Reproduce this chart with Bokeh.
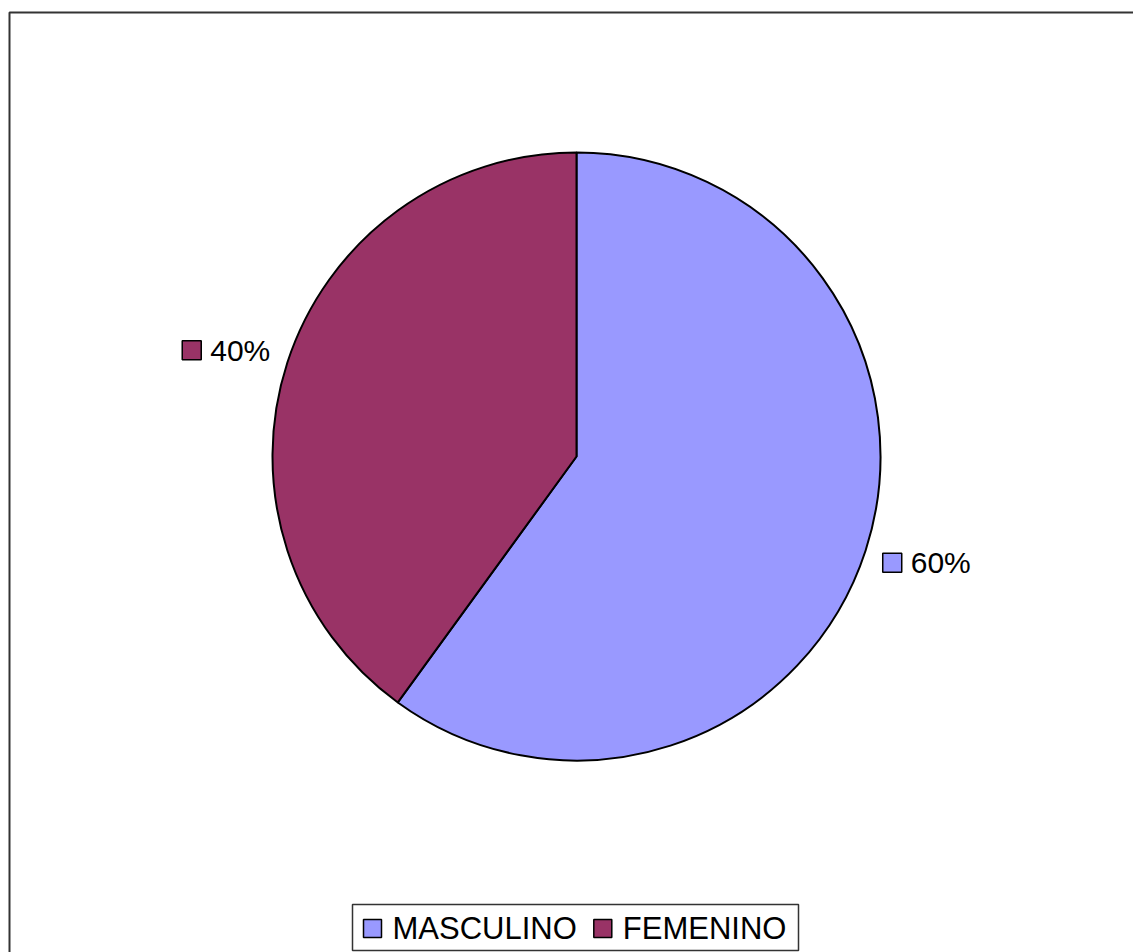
import numpy as np
from bokeh.plotting import figure
from bokeh.models import Range1d, ColumnDataSource
from bokeh.core.properties import value
from bokeh.embed import file_html
from bokeh.resources import INLINE

# ---- data ----
categories = ["MASCULINO", "FEMENINO"]
percentages = [60, 40]
colors = ["#9999FF", "#993366"]
labels = ["60%", "40%"]

W, H = 1133, 952
FONT = "Liberation Sans"

p = figure(width=W, height=H, x_range=Range1d(0, W), y_range=Range1d(0, H),
           output_backend="svg", toolbar_location=None, min_border=0)
p.axis.visible = False
p.grid.visible = False
p.outline_line_color = None
p.background_fill_color = "white"
p.border_fill_color = "white"


def Y(y):
    return H - y


# Approximate Arial/Liberation Sans advance widths (em)
CW = {"M": .833, "A": .667, "S": .667, "C": .722, "U": .722, "L": .556, "I": .278,
      "N": .722, "O": .778, "F": .611, "E": .667, "%": .889, "0": .556, "4": .556, "6": .556}


def tw(s, size):
    return sum(CW.get(c, .6) for c in s) * size


# outer frame (chart area border)
p.quad(left=[9], right=[W + 10], top=[Y(12)], bottom=[-10], fill_color=None,
       line_color="#333333", line_width=2)

# ---- pie ----
cx, cy, r = 576, 456, 304
frac = np.array(percentages, dtype=float) / sum(percentages)
ends = np.pi / 2 - np.concatenate([[0], np.cumsum(frac)[:-1]]) * 2 * np.pi
starts = ends - frac * 2 * np.pi
src = ColumnDataSource(dict(start=starts, end=ends, color=colors, cat=categories))
p.wedge(x=cx, y=Y(cy), radius=r, start_angle="start", end_angle="end",
        fill_color="color", line_color="black", line_width=2, source=src)

# ---- data labels ----
LSIZE = 30
SQ = 19
mids = (starts + ends) / 2
for lab, col, m in zip(labels, colors, mids):
    xe = cx + np.cos(m) * (r + 18)
    yc = cy - np.sin(m) * (r + 40)
    if np.cos(m) >= 0:
        sq_left = xe
        tx = xe + SQ + 9
        align = "left"
    else:
        tx = xe
        sq_left = xe - tw(lab, LSIZE) - 9 - SQ
        align = "right"
    p.rect(x=[sq_left + SQ / 2], y=[Y(yc)], width=SQ, height=SQ, fill_color=col,
           line_color="black", line_width=1.5)
    p.text(x=[tx], y=[Y(yc)], text=[lab], text_font=value(FONT),
           text_font_size=f"{LSIZE}px", text_align=align, text_baseline="middle",
           text_color="black")

# ---- legend ----
GSIZE = 31
p.quad(left=[352], right=[798], top=[Y(904)], bottom=[Y(950)], fill_color="white",
       line_color="#333333", line_width=1.5)
x = 363
ly = 928
for cat, col in zip(categories, colors):
    p.rect(x=[x + 9], y=[Y(ly)], width=18, height=18, fill_color=col,
           line_color="black", line_width=1.5)
    p.text(x=[x + 29], y=[Y(ly)], text=[cat], text_font=value(FONT),
           text_font_size=f"{GSIZE}px", text_align="left", text_baseline="middle",
           text_color="black")
    x += 29 + tw(cat, GSIZE) + 17

open("out.html", "w").write(file_html(p, INLINE))
